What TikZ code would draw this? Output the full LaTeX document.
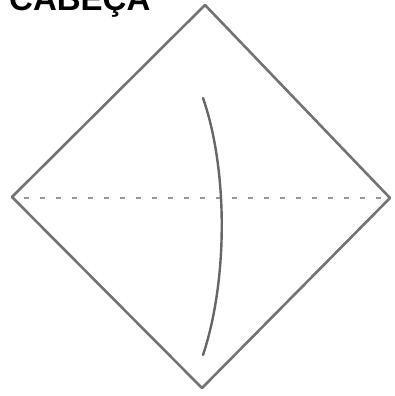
\documentclass[tikz,border=0pt]{standalone}
\usepackage{fontspec}
\setmainfont{Liberation Sans}
\begin{document}
\begin{tikzpicture}[x=1pt,y=-1pt,
  edge/.style={draw=black!55,line width=2.6pt,line join=round},
  fold/.style={draw=black!40,line width=2.6pt,dash pattern=on 5pt off 11pt},
  crease/.style={draw=black!60,line width=2.4pt,line cap=round}]
\useasboundingbox (0,0) rectangle (394,396);
\coordinate (T) at (205,5);
\coordinate (L) at (12,197);
\coordinate (R) at (390,198);
\coordinate (B) at (202,388);
\coordinate (FL) at (24,198);
\coordinate (FR) at (386,198);
\coordinate (CT) at (203,98);
\coordinate (CB) at (203,355);
\node[anchor=base west,inner sep=0pt,font=\fontsize{33}{33}\selectfont\bfseries] (title) at (9,11) {CABEÇA};
\draw[edge] (T) -- (R) -- (B) -- (L) -- cycle;
\draw[fold] (FL) -- (FR);
\draw[crease] (CT) .. controls (228,170) and (228,280) .. (CB);
\end{tikzpicture}
\end{document}
